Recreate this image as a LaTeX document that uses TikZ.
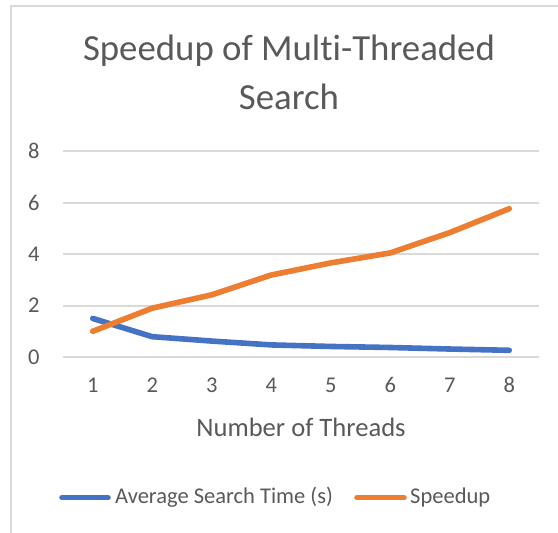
\documentclass[tikz,border=0pt]{standalone}
\usepackage{fontspec}
\setmainfont{Carlito}[Ligatures=NoCommon]
\usetikzlibrary{positioning}
\definecolor{xblue}{HTML}{4472C4}
\definecolor{xorange}{HTML}{ED7D31}
\definecolor{xgrid}{HTML}{D9D9D9}
\definecolor{xtext}{HTML}{595959}

\begin{document}
\begin{tikzpicture}[x=1pt,y=1pt, every node/.style={text=xtext,inner sep=0pt}, gridline/.style={xgrid,line width=1.9pt}, tick/.style={font=\fontsize{22.5}{27}\selectfont}, series/.style={line width=5.6pt,line cap=round,line join=round}]
\useasboundingbox (0,0) rectangle (558,533);
\draw[gridline] (11,-10) |- (570,527);
\node[align=center,font=\fontsize{36.8}{49}\selectfont] (title) at (289,460.5) {Speedup of Multi-Threaded\\Search};
% plot area: one unit per thread, one unit per second/speedup
\begin{scope}[shift={(33.25,176)},x=59.5pt,y=25.7pt]
\foreach \v in {0,2,...,8} {\draw[gridline] (0.5,\v) -- (8.5,\v); \node[tick] (y\v) at (0.01,\v) {\v};}
\foreach \i in {1,...,8} \node[tick] (x\i) at (\i,-1.09) {\i};
\draw[series,xblue] plot coordinates {(1,1.5) (2,0.79) (3,0.62) (4,0.47) (5,0.41) (6,0.37) (7,0.31) (8,0.26)};
\draw[series,xorange] plot coordinates {(1,1) (2,1.9) (3,2.42) (4,3.19) (5,3.66) (6,4.05) (7,4.84) (8,5.77)};
\node[font=\fontsize{26.6}{32}\selectfont] (xtitle) at (4.5,-2.72) {Number of Threads};
\end{scope}
% legend
\node[tick,anchor=west] (lgtime) at (115,35.3) {Average Search Time (s)};
\node[tick,anchor=west] (lgspeed) at (410,35.3) {Speedup};
\draw[series,xblue] ([xshift=-53pt]lgtime.west) -- ([xshift=-7pt]lgtime.west);
\draw[series,xorange] ([xshift=-53pt]lgspeed.west) -- ([xshift=-6pt]lgspeed.west);
\end{tikzpicture}
\end{document}
